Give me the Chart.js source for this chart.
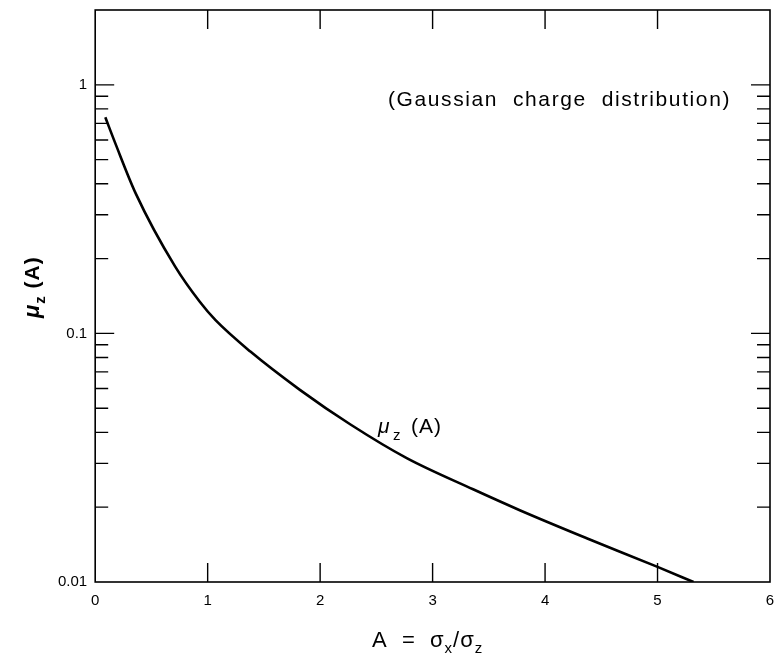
<!DOCTYPE html>
<html lang="en">
<head>
  <meta charset="utf-8">
  <title>mu_z(A)</title>
  <script src="https://cdn.jsdelivr.net/npm/chart.js"></script>
  <style>
    html, body { margin: 0; padding: 0; background: #fff; }
    #wrap { width: 774px; height: 660px; }
  </style>
</head>
<body>
<div id="wrap"><canvas id="muChart"></canvas></div>
<script>
  // values
  const aValues  = [0.09, 0.18, 0.36, 0.71, 0.93, 1.07, 1.38, 1.82, 2.27, 2.77, 3.36, 3.78, 4.37, 5.00, 5.32];
  const muValues = [0.74, 0.58, 0.366, 0.186, 0.134, 0.113, 0.0845, 0.0593, 0.0430, 0.0315, 0.0236, 0.0194, 0.0150, 0.0115, 0.0100];

  const xTicks = [0, 1, 2, 3, 4, 5, 6];
  const yTicks = [0.01, 0.1, 1];
  const yMinor = [2, 3, 4, 5, 6, 7, 8, 9];

  const FONT = '"Liberation Sans", Arial, Helvetica, sans-serif';

  const noOverhang = s => { s.paddingLeft = 0; s.paddingRight = 0; s.paddingTop = 0; s.paddingBottom = 0; };

  // inward ticks, frame and text labels
  const extras = {
    id: 'extras',
    afterDraw(chart) {
      const ctx = chart.ctx;
      const a = chart.chartArea;
      const xs = chart.scales.x, ys = chart.scales.y;
      ctx.save();
      ctx.strokeStyle = '#000';
      ctx.lineWidth = 1.6;
      ctx.strokeRect(a.left, a.top, a.right - a.left, a.bottom - a.top);

      ctx.lineWidth = 1.4;
      ctx.beginPath();
      // x major ticks, bottom and top
      xTicks.slice(1, -1).forEach(v => {
        const px = xs.getPixelForValue(v);
        ctx.moveTo(px, a.bottom); ctx.lineTo(px, a.bottom - 19);
        ctx.moveTo(px, a.top); ctx.lineTo(px, a.top + 19);
      });
      // y ticks, left and right
      yTicks.forEach(d => {
        const py = ys.getPixelForValue(d);
        if (d > 0.01) {
          ctx.moveTo(a.left, py); ctx.lineTo(a.left + 19, py);
          ctx.moveTo(a.right, py); ctx.lineTo(a.right - 19, py);
        }
        if (d < 1) {
          yMinor.forEach(m => {
            const pm = ys.getPixelForValue(d * m);
            ctx.moveTo(a.left, pm); ctx.lineTo(a.left + 13, pm);
            ctx.moveTo(a.right, pm); ctx.lineTo(a.right - 13, pm);
          });
        }
      });
      ctx.stroke();

      ctx.fillStyle = '#000';
      ctx.textBaseline = 'alphabetic';
      ctx.textAlign = 'left';

      // note in the top right
      ctx.font = '21px ' + FONT;
      ctx.letterSpacing = '1.6px';
      ctx.fillText('(Gaussian  charge  distribution)', 388, 106);

      // curve label
      ctx.letterSpacing = '1px';
      ctx.font = 'italic 21px ' + FONT;
      ctx.fillText('\u03bc', 378, 433);
      ctx.font = '15px ' + FONT;
      ctx.fillText('z', 393, 440);
      ctx.font = '21px ' + FONT;
      ctx.fillText('(A)', 411, 433);

      // x axis title
      let x = 372;
      const part = (t, f, dy) => {
        ctx.font = f;
        ctx.fillText(t, x, 647 + dy);
        x += ctx.measureText(t).width;
      };
      part('A  =  \u03c3', '22px ' + FONT, 0);
      part('x', '15px ' + FONT, 6);
      part('/\u03c3', '22px ' + FONT, 0);
      part('z', '15px ' + FONT, 6);

      // y axis title, rotated
      ctx.translate(39, 318);
      ctx.rotate(-Math.PI / 2);
      x = 0;
      const part2 = (t, f, dy) => {
        ctx.font = f;
        ctx.fillText(t, x, dy);
        x += ctx.measureText(t).width;
      };
      part2('\u03bc', 'italic bold 22px ' + FONT, 0);
      part2('z', 'bold 15px ' + FONT, 6);
      part2(' (A)', 'bold 21px ' + FONT, 0);
      ctx.restore();
    }
  };

  new Chart(document.getElementById('muChart'), {
    type: 'line',
    data: {
      datasets: [{
        data: aValues.map((v, i) => ({ x: v, y: muValues[i] })),
        borderColor: '#000',
        borderWidth: 2.6,
        pointRadius: 0,
        fill: false,
        cubicInterpolationMode: 'monotone'
      }]
    },
    options: {
      responsive: true,
      maintainAspectRatio: false,
      animation: false,
      layout: { autoPadding: false, padding: { left: 50, right: 4, top: 10, bottom: 40 } },
      plugins: { legend: { display: false }, tooltip: { enabled: false } },
      scales: {
        x: {
          type: 'linear',
          min: 0, max: 6,
          afterBuildTicks: s => { s.ticks = xTicks.map(v => ({ value: v })); },
          afterFit: noOverhang,
          grid: { display: false, drawTicks: false },
          border: { display: false },
          ticks: { color: '#000', font: { size: 15, family: FONT }, padding: 10, maxRotation: 0 }
        },
        y: {
          type: 'logarithmic',
          min: 0.01, max: 2,
          afterBuildTicks: s => { s.ticks = yTicks.map(v => ({ value: v })); },
          afterFit: noOverhang,
          grid: { display: false, drawTicks: false },
          border: { display: false },
          ticks: {
            color: '#000', font: { size: 15, family: FONT }, padding: 8,
            callback: v => String(v)
          }
        }
      }
    },
    plugins: [extras]
  });
</script>
</body>
</html>
